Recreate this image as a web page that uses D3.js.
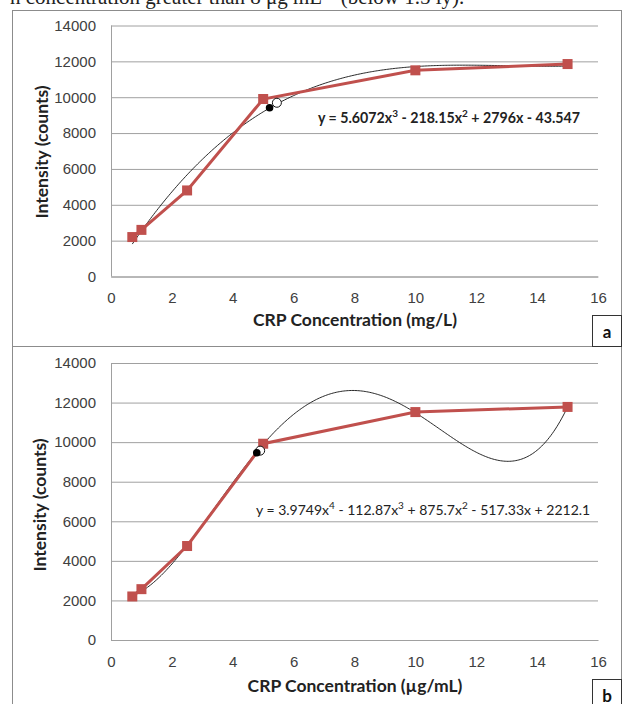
<!DOCTYPE html>
<html>
<head>
<meta charset="utf-8">
<script src="https://cdn.jsdelivr.net/npm/d3@7"></script>
<style>
  body { margin: 0; background: #fff; }
  svg { display: block; font-family: Lato, "Open Sans", sans-serif; }
  .grid line { stroke: #a0a0a0; }
  .grid path { display: none; }
  .tick text { fill: #404040; }
</style>
</head>
<body>
<svg id="chart" width="627" height="704"></svg>
<script>
// calibration points (same standards in both panels)
const concA = [0.7, 1, 2.5, 5, 10, 15];
const intensityA = [2200, 2600, 4800, 9900, 11500, 11850];
const concB = [0.7, 1, 2.5, 5, 10, 15];
const intensityB = [2200, 2570, 4750, 9920, 11520, 11780];

// trendline coefficients, lowest power first
const fitA = [-43.547, 2796, -218.15, 5.6072];
const fitB = [2212.1, -517.33, 875.7, -112.87, 3.9749];

// unknown sample (filled) and estimate (open)
const filledDotA = [5.21, 9410];
const openDotA = [5.45, 9690];
const filledDotB = [4.79, 9465];
const openDotB = [4.9, 9570];

const xTicks = [0, 2, 4, 6, 8, 10, 12, 14, 16];
const yTicks = [0, 2000, 4000, 6000, 8000, 10000, 12000, 14000];

const red = '#c0504d';
const svg = d3.select('#chart');

// bit of the page text above the figure, cut off by the crop
svg.append('text')
    .attr('x', 10).attr('y', 4)
    .style('font-family', '"Liberation Serif", serif')
    .style('font-size', '21px')
    .style('fill', '#222')
    .text('n concentration greater than 8 \u03bcg mL\u207b\u00b9 (below 1.5 ly).');

// panel frames
svg.append('rect').attr('x', 12.5).attr('y', 10.5).attr('width', 609).attr('height', 336)
    .attr('fill', 'none').attr('stroke', '#8c8c8c');
svg.append('rect').attr('x', 12.5).attr('y', 346.5).attr('width', 609).attr('height', 370)
    .attr('fill', 'none').attr('stroke', '#8c8c8c');

function poly(coefs, x) {
    return coefs.reduce((s, c, i) => s + c * Math.pow(x, i), 0);
}

function drawPanel(p) {
    const x = d3.scaleLinear().domain([0, 16]).range([111, 598]);
    const y = d3.scaleLinear().domain([0, 14000]).range([p.bottom, p.top]);
    const g = svg.append('g');

    g.append('g').attr('class', 'grid')
        .attr('transform', 'translate(111,0)')
        .call(d3.axisLeft(y).tickValues(yTicks).tickSize(-487).tickPadding(15).tickFormat(d3.format('d')))
        .call(s => s.selectAll('text').style('font-size', '15px'));

    g.append('line')
        .attr('x1', 111.5).attr('x2', 111.5).attr('y1', y(14000)).attr('y2', y(0))
        .attr('stroke', '#a0a0a0');

    g.append('g')
        .attr('transform', `translate(0,${y(0)})`)
        .call(d3.axisBottom(x).tickValues(xTicks).tickSize(0).tickPadding(p.xPad))
        .call(s => s.select('.domain').attr('stroke', '#a0a0a0'))
        .call(s => s.selectAll('text').style('font-size', '15px'));

    // axis titles
    g.append('text')
        .attr('transform', `translate(${p.yTitleX},${p.yTitleY}) rotate(-90)`)
        .attr('text-anchor', 'middle')
        .style('font-size', '17.5px').style('font-weight', 'bold').style('fill', '#222')
        .text('Intensity (counts)');
    g.append('text')
        .attr('x', 355).attr('y', p.xTitleY)
        .attr('text-anchor', 'middle')
        .style('font-size', '17.5px').style('font-weight', 'bold').style('fill', '#222')
        .text(p.xTitle);

    // polynomial trendline
    const xs = d3.range(p.conc[0], p.conc[p.conc.length - 1] + 0.001, 0.05);
    g.append('path')
        .datum(xs)
        .attr('fill', 'none').attr('stroke', '#111').attr('stroke-width', 0.9)
        .attr('d', d3.line().x(d => x(d)).y(d => y(poly(p.fit, d))));

    // measured series
    const pts = p.conc.map((c, i) => [c, p.vals[i]]);
    g.append('path')
        .datum(pts)
        .attr('fill', 'none').attr('stroke', red).attr('stroke-width', 3)
        .attr('d', d3.line().x(d => x(d[0])).y(d => y(d[1])));
    g.selectAll('rect.mk').data(pts).enter().append('rect')
        .attr('class', 'mk')
        .attr('x', d => x(d[0]) - 5).attr('y', d => y(d[1]) - 5)
        .attr('width', 10).attr('height', 10)
        .attr('fill', red);

    g.append('circle')
        .attr('cx', x(p.open[0])).attr('cy', y(p.open[1])).attr('r', 4.5)
        .attr('fill', '#fff').attr('stroke', '#111').attr('stroke-width', 1);
    g.append('circle')
        .attr('cx', x(p.filled[0])).attr('cy', y(p.filled[1])).attr('r', 3.8)
        .attr('fill', '#000');

    // equation label
    const eq = g.append('text')
        .attr('x', p.eqX).attr('y', p.eqY)
        .style('font-size', p.eqSize).style('font-weight', p.eqWeight).style('fill', '#222');
    p.eq.forEach(part => {
        const t = eq.append('tspan').text(part[0]);
        if (part[1]) t.attr('baseline-shift', 'super').style('font-size', '10px');
    });

    // panel letter box
    g.append('rect')
        .attr('x', 592.5).attr('y', p.boxY).attr('width', 29).attr('height', p.boxH)
        .attr('fill', '#fff').attr('stroke', '#333');
    g.append('text')
        .attr('x', 607).attr('y', p.boxY + 22)
        .attr('text-anchor', 'middle')
        .style('font-size', '17px').style('font-weight', 'bold').style('fill', '#111')
        .text(p.letter);
}

drawPanel({
    top: 25.5, bottom: 276.5, xPad: 16,
    conc: concA, vals: intensityA, fit: fitA,
    filled: filledDotA, open: openDotA,
    yTitleX: 48, yTitleY: 152, xTitleY: 326, xTitle: 'CRP Concentration (mg/L)',
    eqX: 318, eqY: 123, eqSize: '14.2px', eqWeight: 'bold',
    eq: [['y = 5.6072x'], ['3', true], [' - 218.15x'], ['2', true], [' + 2796x - 43.547']],
    boxY: 315.5, boxH: 31, letter: 'a'
});

drawPanel({
    top: 363, bottom: 640, xPad: 16,
    conc: concB, vals: intensityB, fit: fitB,
    filled: filledDotB, open: openDotB,
    yTitleX: 46, yTitleY: 505, xTitleY: 692, xTitle: 'CRP Concentration (\u00b5g/mL)',
    eqX: 256, eqY: 515, eqSize: '14px', eqWeight: 'normal',
    eq: [['y = 3.9749x'], ['4', true], [' - 112.87x'], ['3', true], [' + 875.7x'], ['2', true], [' - 517.33x + 2212.1']],
    boxY: 679.5, boxH: 30, letter: 'b'
});
</script>
</body>
</html>
